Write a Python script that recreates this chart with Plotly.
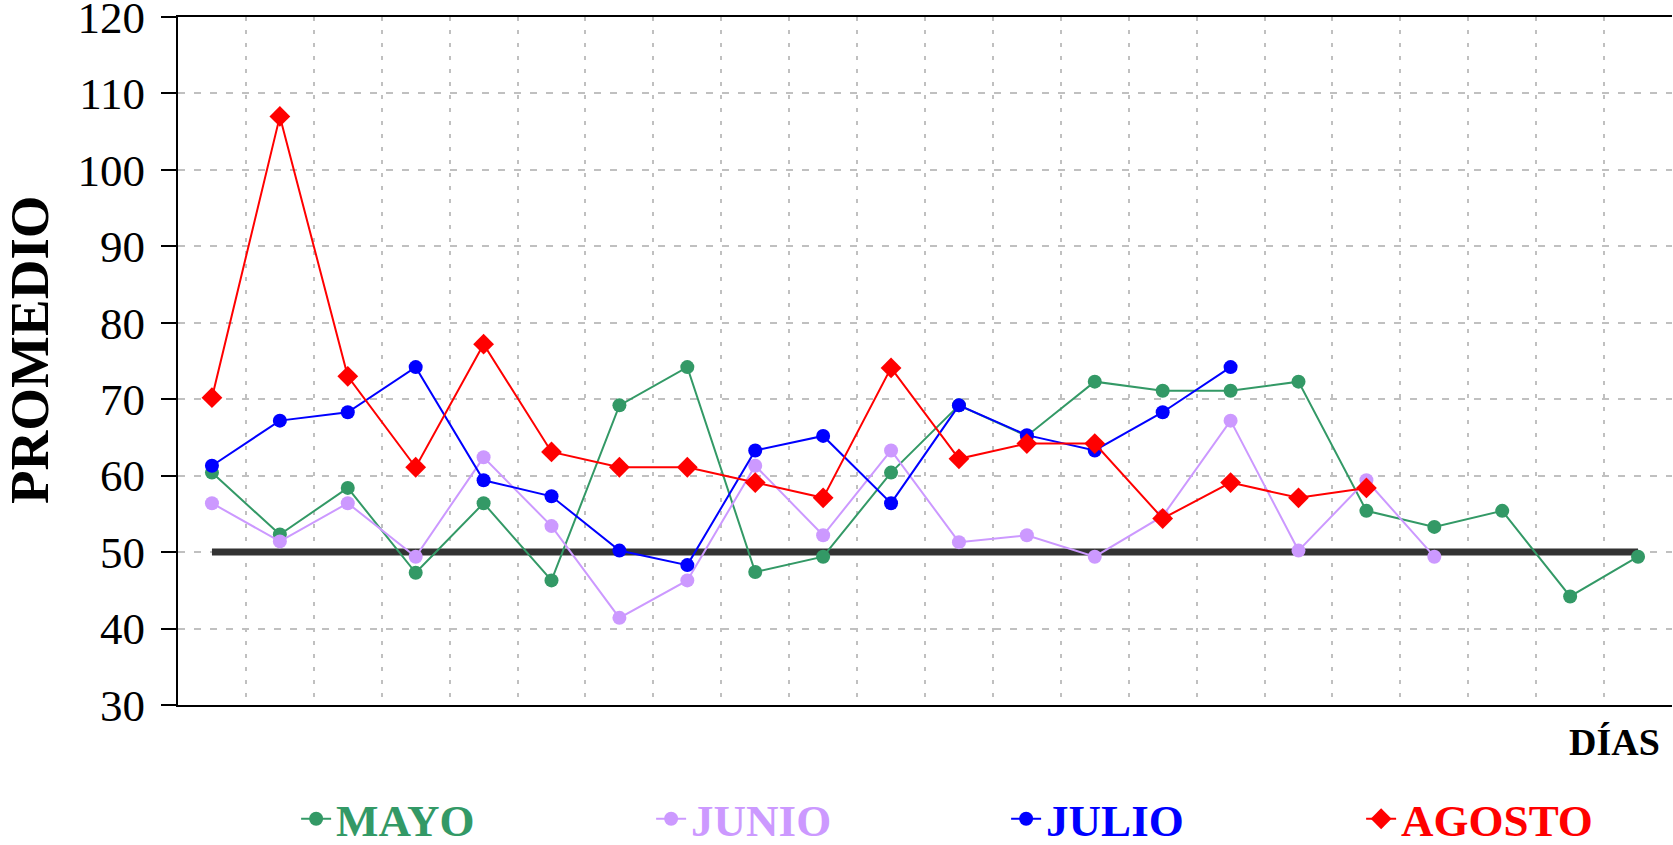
import plotly.graph_objects as go

# ---- data ----
dias = list(range(1, 23))
mayo = [60.4, 52.3, 58.4, 47.3, 56.4, 46.3, 69.2, 74.2, 47.4, 49.4, 60.4,
        69.2, 65.2, 72.3, 71.1, 71.1, 72.3, 55.4, 53.3, 55.4, 44.2, 49.4]
junio = [56.4, 51.4, 56.4, 49.4, 62.4, 53.4, 41.4, 46.3, 61.3, 52.2, 63.3,
         51.3, 52.2, 49.4, 54.7, 67.2, 50.2, 59.4, 49.4]
julio = [61.3, 67.2, 68.3, 74.2, 59.4, 57.3, 50.2, 48.3, 63.3, 65.2, 56.4,
         69.2, 65.3, 63.3, 68.3, 74.2]
agosto = [70.2, 107.0, 73.0, 61.1, 77.2, 63.1, 61.1, 61.1, 59.1, 57.1, 74.1,
          62.2, 64.2, 64.2, 54.4, 59.1, 57.1, 58.4]
limite = [50] * 22

series = [
    ("MAYO", mayo, "#339966", "circle"),
    ("JUNIO", junio, "#CC99FF", "circle"),
    ("JULIO", julio, "#0000FF", "circle"),
    ("AGOSTO", agosto, "#FF0000", "diamond"),
]

SERIF = "Liberation Serif"

fig = go.Figure()
fig.add_trace(go.Scatter(
    x=dias, y=limite, mode="lines", showlegend=False, hoverinfo="skip",
    line=dict(color="#333333", width=7)))

for name, vals, color, sym in series:
    fig.add_trace(go.Scatter(
        x=dias[:len(vals)], y=vals, mode="lines+markers",
        name=f"<b><span style='color:{color}'>{name}</span></b>",
        line=dict(color=color, width=2),
        marker=dict(color=color, size=14 if sym == "circle" else 16, symbol=sym),
    ))

fig.update_layout(
    width=1673, height=845,
    margin=dict(l=178, r=1, t=17, b=140, autoexpand=False),
    paper_bgcolor="white", plot_bgcolor="white",
    font=dict(family=SERIF, color="black"),
    showlegend=True,
    legend=dict(
        orientation="h", xref="container", yref="paper",
        x=0.177, y=(705 - 819) / 688, xanchor="left", yanchor="middle",
        font=dict(family=SERIF, size=45),
        entrywidth=310, itemwidth=30,
        bgcolor="rgba(0,0,0,0)",
    ),
    annotations=[
        dict(text="<b>PROMEDIO</b>", textangle=-90, xref="paper", yref="paper",
             x=(29 - 178) / 1494, y=0.5, yshift=11, showarrow=False,
             xanchor="center", yanchor="middle",
             font=dict(family=SERIF, size=55, color="black")),
        dict(text="<b>DÍAS</b>", xref="paper", yref="paper", x=1, y=0,
             xanchor="right", yanchor="middle", xshift=-10, yshift=-37,
             showarrow=False, font=dict(family=SERIF, size=38, color="black")),
    ],
)

fig.update_xaxes(
    range=[0.5, 22.5], showticklabels=False, ticks="",
    tickvals=[i + 0.5 for i in range(1, 22)],
    showgrid=True, gridcolor="#C0C0C0", gridwidth=2, griddash="4px,9px",
    showline=True, linecolor="black", linewidth=2, mirror=True,
    zeroline=False, automargin=False,
)
fig.update_yaxes(
    range=[30, 120], dtick=10, tick0=30,
    ticks="outside", ticklen=15, tickwidth=2, tickcolor="black",
    ticklabelstandoff=7, ticklabeloverflow="allow",
    tickfont=dict(family=SERIF, size=45, color="black"),
    showgrid=True, gridcolor="#C0C0C0", gridwidth=2, griddash="7px,9px",
    showline=True, linecolor="black", linewidth=2,
    zeroline=False, automargin=False,
)

fig.write_html("out.html", config={"displayModeBar": False},
               post_script="document.body.style.margin='0';")
